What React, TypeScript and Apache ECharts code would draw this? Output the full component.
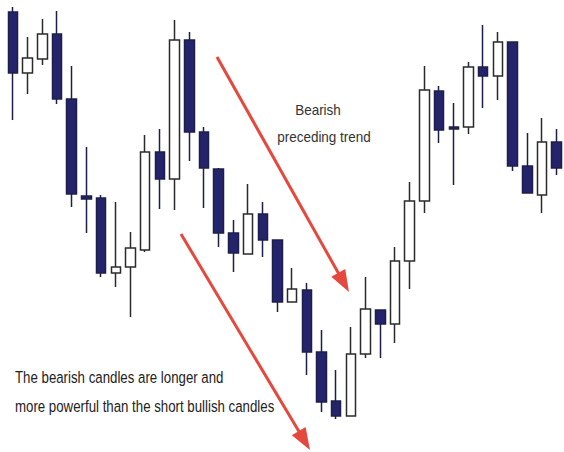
import React, { useEffect, useRef } from "react";
import * as echarts from "echarts";

// Candle values (price levels; higher = higher on the chart)
const opens = [440, 379, 393, 418, 353, 256, 254, 179, 185, 202, 300, 273, 412, 320, 283, 219, 198, 238, 212, 150, 162, 100, 51, 36, 98, 142, 128, 191, 251, 361, 325, 325, 385, 376, 410, 286, 257, 310];
const closes = [379, 394, 418, 353, 258, 253, 179, 185, 204, 300, 273, 412, 320, 284, 219, 199, 238, 212, 150, 163, 100, 50, 36, 98, 143, 128, 191, 251, 362, 322, 323, 385, 376, 410, 286, 259, 310, 284];
const lows = [332, 358, 387, 348, 245, 219, 175, 165, 135, 200, 243, 242, 291, 244, 205, 180, 198, 195, 140, 150, 77, 40, 33, 36, 94, 94, 109, 163, 239, 309, 267, 318, 344, 352, 281, 259, 239, 277];
const highs = [445, 415, 433, 441, 386, 305, 257, 250, 220, 317, 323, 432, 420, 325, 284, 232, 268, 250, 212, 184, 169, 122, 82, 125, 175, 142, 205, 270, 386, 366, 349, 390, 427, 420, 410, 319, 334, 323];
const categories = opens.map((_, i) => `D${i + 1}`);

const topLabel = ["Bearish", "preceding trend"];
const bottomLabel = ["The bearish candles are longer and", "more powerful than the short bullish candles"];

export default function App() {
  const ref = useRef<HTMLDivElement>(null);
  useEffect(() => {
    if (!ref.current) return;
    const chart = echarts.init(ref.current, null, { renderer: "svg" });
    const data = opens.map((o, i) => [o, closes[i], lows[i], highs[i]]);
    const red = "#e5483c";
    const arrow = (x1: number, y1: number, x2: number, y2: number) => {
      const dx = x2 - x1, dy = y2 - y1;
      const len = Math.sqrt(dx * dx + dy * dy);
      const ux = dx / len, uy = dy / len;
      const hl = 22, hw = 8;
      const bx = x2 - ux * hl, by = y2 - uy * hl;
      return [
        { type: "line", shape: { x1, y1, x2: bx + ux * 2, y2: by + uy * 2 }, style: { stroke: red, lineWidth: 3 } },
        {
          type: "polygon",
          shape: { points: [[x2, y2], [bx + uy * hw, by - ux * hw], [bx - uy * hw, by + ux * hw]] },
          style: { fill: red },
        },
      ];
    };
    chart.setOption({
      animation: false,
      backgroundColor: "#ffffff",
      grid: { left: 5.6, right: -2.4, top: 0, bottom: 0 },
      xAxis: { type: "category", data: categories, show: false },
      yAxis: { type: "value", min: 0, max: 452, show: false, splitLine: { show: false } },
      series: [
        {
          type: "candlestick",
          data,
          barWidth: 10,
          itemStyle: {
            color: "#ffffff",
            color0: "#24246c",
            borderColor: "#2a2a2a",
            borderColor0: "#1e1e4a",
            borderWidth: 1.5,
          },
        },
      ],
      graphic: [
        ...arrow(217, 57, 349, 292),
        ...arrow(181, 234, 310, 450),
        {
          type: "text",
          x: 318, y: 110, scaleX: 0.9,
          style: { text: topLabel[0], font: "15px 'Liberation Sans'", fill: "#333", align: "center", verticalAlign: "middle" },
        },
        {
          type: "text",
          x: 324, y: 137, scaleX: 0.9,
          style: { text: topLabel[1], font: "15px 'Liberation Sans'", fill: "#333", align: "center", verticalAlign: "middle" },
        },
        {
          type: "text",
          x: 15, y: 377, scaleX: 0.78,
          style: { text: bottomLabel[0], font: "17px 'Liberation Sans'", fill: "#222", align: "left", verticalAlign: "middle" },
        },
        {
          type: "text",
          x: 15, y: 406, scaleX: 0.78,
          style: { text: bottomLabel[1], font: "17px 'Liberation Sans'", fill: "#222", align: "left", verticalAlign: "middle" },
        },
      ],
    });
    return () => chart.dispose();
  }, []);
  return <div ref={ref} style={{ position: "fixed", left: 0, top: 0, width: 564, height: 452 }} />;
}
